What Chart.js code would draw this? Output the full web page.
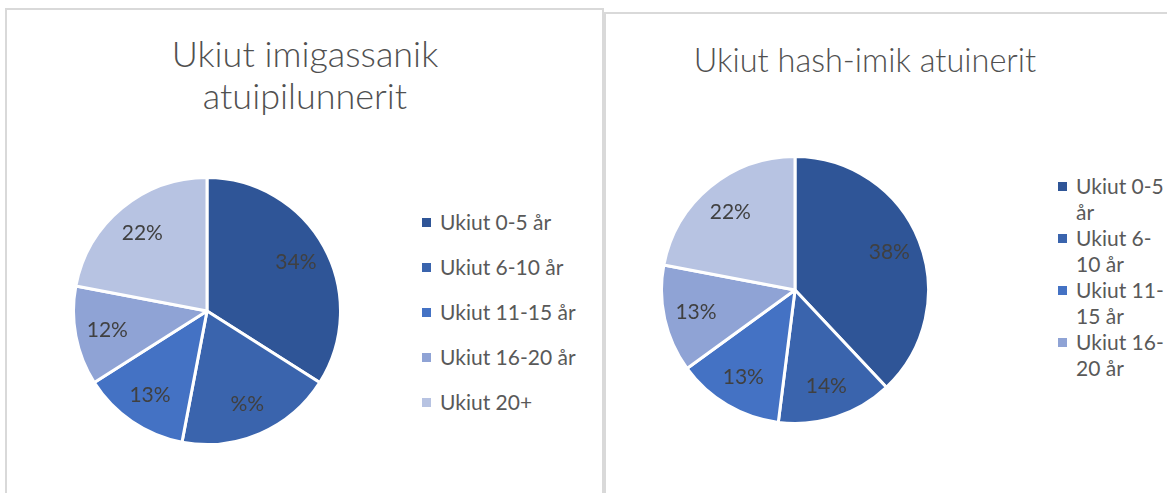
<!DOCTYPE html>
<html lang="kl">
  <head>
    <meta charset="UTF-8" />
    <title>Ukiut</title>
    <script src="https://cdn.jsdelivr.net/npm/chart.js@4/dist/chart.umd.min.js"></script>
    <style>
      html, body { margin: 0; padding: 0; background: #fff; overflow: hidden; width: 1167px; height: 493px; }
      .panel { position: absolute; border: 2px solid #d9d9d9; box-sizing: border-box; background: #fff; }
      #leftPanel { left: 5px; top: 8px; width: 599px; height: 520px; }
      #rightPanel { left: 604px; top: 12px; width: 640px; height: 520px; }
      .title { position: absolute; color: #505050; font-family: Lato, "Open Sans", sans-serif; font-weight: 300; line-height: 42px; text-align: center; white-space: nowrap; }
      .pie { position: absolute; width: 270px; height: 270px; }
      .legend { position: absolute; font-family: Lato, "Open Sans", sans-serif; font-size: 21px; color: #595959; white-space: nowrap; }
      .legend .item { position: relative; padding-left: 18px; }
      .legend .box { position: absolute; left: 0; width: 9px; height: 9px; }
      #leftLegend .item { height: 45px; line-height: 20px; }
      #leftLegend .box { top: 6px; }
      #rightLegend { height: 210px; overflow: hidden; }
      #rightLegend .item { line-height: 26px; }
      #rightLegend .box { top: 9px; }
    </style>
  </head>
  <body>
    <div id="leftPanel" class="panel"></div>
    <div id="rightPanel" class="panel"></div>

    <div class="title" style="left: 6px; top: 32px; width: 598px; font-size: 36px">Ukiut imigassanik<br />atuipilunnerit</div>
    <div class="title" style="left: 606px; top: 39px; width: 518px; font-size: 32.5px">Ukiut hash-imik atuinerit</div>

    <canvas id="leftPie" class="pie" style="left: 72px; top: 176px"></canvas>
    <canvas id="rightPie" class="pie" style="left: 660px; top: 155px"></canvas>

    <div id="leftLegend" class="legend" style="left: 422px; top: 212px"></div>
    <div id="rightLegend" class="legend" style="left: 1058px; top: 173px"></div>

    <script>
      const categories = ["Ukiut 0-5 år", "Ukiut 6-10 år", "Ukiut 11-15 år", "Ukiut 16-20 år", "Ukiut 20+"];
      // the narrow right legend wraps its labels like this
      const categoriesWrapped = [
        ["Ukiut 0-5", "år"],
        ["Ukiut 6-", "10 år"],
        ["Ukiut 11-", "15 år"],
        ["Ukiut 16-", "20 år"],
        ["Ukiut 20+"],
      ];
      const colors = ["#2f5597", "#3a64ad", "#4472c4", "#8fa3d5", "#b7c3e2"];

      // imigassanik atuipilunnerit
      const leftValues = [34, 19, 13, 12, 22];
      const leftLabelText = ["34%", "%%", "13%", "12%", "22%"];

      // hash-imik atuinerit
      const rightValues = [38, 14, 13, 13, 22];
      const rightLabelText = ["38%", "14%", "13%", "13%", "22%"];

      // draw the % labels inside each slice
      const sliceLabels = {
        id: "sliceLabels",
        afterDatasetsDraw(chart, args, opts) {
          const { ctx } = chart;
          const arcs = chart.getDatasetMeta(0).data;
          ctx.save();
          ctx.font = "21px Lato, 'Open Sans', sans-serif";
          ctx.fillStyle = "#404040";
          ctx.textAlign = "center";
          ctx.textBaseline = "middle";
          arcs.forEach((arc, i) => {
            const p = arc.getProps(["x", "y", "startAngle", "endAngle", "outerRadius"], true);
            const mid = (p.startAngle + p.endAngle) / 2;
            const r = p.outerRadius * 0.76;
            ctx.fillText(opts.text[i], p.x + Math.cos(mid) * r, p.y + Math.sin(mid) * r);
          });
          ctx.restore();
        },
      };

      function makePie(id, values, text) {
        return new Chart(document.getElementById(id), {
          type: "pie",
          data: {
            labels: categories,
            datasets: [
              {
                data: values,
                backgroundColor: colors,
                borderColor: "#ffffff",
                borderWidth: 3,
              },
            ],
          },
          options: {
            responsive: false,
            animation: false,
            layout: { padding: 0 },
            plugins: {
              legend: { display: false },
              tooltip: { enabled: false },
              sliceLabels: { text },
            },
          },
          plugins: [sliceLabels],
        });
      }

      function makeLegend(id, names) {
        const el = document.getElementById(id);
        names.forEach((c, i) => {
          const item = document.createElement("div");
          item.className = "item";
          const text = Array.isArray(c) ? c.join("<br>") : c;
          item.innerHTML = '<span class="box" style="background:' + colors[i] + '"></span>' + text;
          el.appendChild(item);
        });
      }

      document.querySelectorAll(".pie").forEach((c) => { c.width = 270; c.height = 270; });
      makePie("leftPie", leftValues, leftLabelText);
      makePie("rightPie", rightValues, rightLabelText);
      makeLegend("leftLegend", categories);
      makeLegend("rightLegend", categoriesWrapped);
    </script>
  </body>
</html>
